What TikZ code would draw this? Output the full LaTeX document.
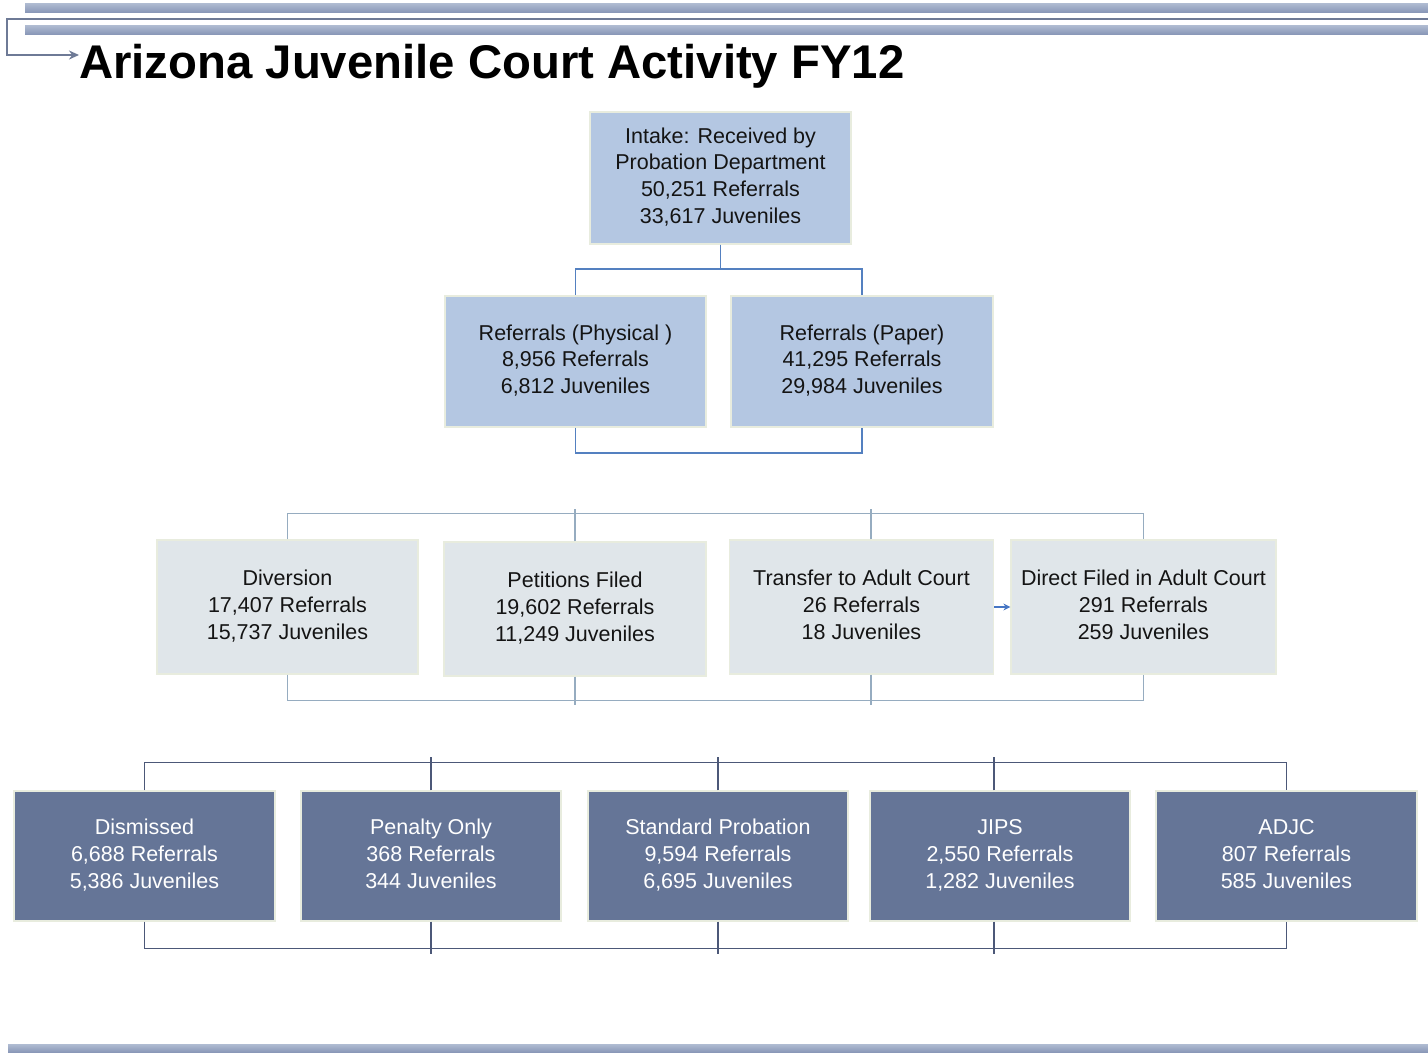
\documentclass[tikz,border=0pt]{standalone}
\usepackage{fontspec}
\setmainfont{Liberation Sans}
\usetikzlibrary{arrows.meta,calc}
\definecolor{fillA}{RGB}{180,199,226}
\definecolor{fillB}{RGB}{224,230,234}
\definecolor{fillC}{RGB}{101,117,151}
\definecolor{edgeBox}{RGB}{232,236,222}
\definecolor{lineA}{RGB}{84,128,192}
\definecolor{lineB}{RGB}{150,172,192}
\definecolor{lineC}{RGB}{76,88,120}
\definecolor{arrowBlue}{RGB}{70,118,196}
\definecolor{txt}{RGB}{20,20,20}
\definecolor{barTop}{RGB}{176,188,210}
\definecolor{barMid}{RGB}{214,222,235}
\definecolor{barBot}{RGB}{138,152,184}
\definecolor{hdrLine}{RGB}{110,122,150}
\begin{document}
\begin{tikzpicture}[x=1pt,y=-1pt,
  box/.style={rectangle, draw=edgeBox, line width=1.2pt, align=center, inner sep=0pt,
    font=\fontsize{21.5}{26.7}\selectfont, text=txt},
  boxA/.style={box, fill=fillA, minimum width=261pt, minimum height=131pt},
  boxB/.style={box, fill=fillB, minimum width=262pt, minimum height=134pt},
  boxC/.style={box, fill=fillC, minimum width=261pt, minimum height=130pt, text=white},
  conA/.style={draw=lineA, line width=1.8pt},
  conB/.style={draw=lineB, line width=1.3pt},
  conC/.style={draw=lineC, line width=1.5pt},
  bar/.style={top color=barTop, middle color=barMid, bottom color=barBot},
  hdr/.style={draw=hdrLine, line width=1.6pt}]
\useasboundingbox[fill=white] (0,0) rectangle (1428,1053);

% header decoration
\fill[bar] (25,3) rectangle (1428,12);
\fill[bar] (25,25) rectangle (1428,34);
\fill[bar] (8,1044) rectangle (1428,1052);
\node[anchor=base west, inner sep=0pt, font=\fontsize{47.3}{56}\selectfont\bfseries] (title) at (79,78) {Arizona Juvenile Court Activity FY12};
\draw[hdr, -{Stealth[length=10pt,width=9pt]}] (1428,19) -- (7,19) -- (7,55) -- (79,55);

% row 1-2
\node[boxA, minimum height=132pt] (intake) at (720.5,178) {\strut Intake: Received by\\Probation Department\\50,251 Referrals\\33,617 Juveniles\strut};
\node[boxA] (phys) at (575.5,361.5) {\strut Referrals (Physical )\\8,956 Referrals\\6,812 Juveniles\strut};
\node[boxA, minimum width=262pt] (paper) at (862,361.5) {\strut Referrals (Paper)\\41,295 Referrals\\29,984 Juveniles\strut};

\draw[conA] (intake.south) -- ++(0,24) -| (phys.north);
\draw[conA] (intake.south) -- ++(0,24) -| (paper.north);
\draw[conA] (phys.south) -- ++(0,25) -| (paper.south);

% row 3
\node[boxB, minimum width=261pt] (div) at (287.5,607) {\strut Diversion\\17,407 Referrals\\15,737 Juveniles\strut};
\node[boxB] (pet) at (575,609) {\strut Petitions Filed\\19,602 Referrals\\11,249 Juveniles\strut};
\node[boxB, minimum width=264pt] (trans) at (861.5,607) {\strut Transfer to Adult Court\\26 Referrals\\18 Juveniles\strut};
\node[boxB, minimum width=265pt] (direct) at (1143.5,607) {\strut Direct Filed in Adult Court\\291 Referrals\\259 Juveniles\strut};

\draw[conB] (div.north) -- ++(0,-26) -| (direct.north);
\draw[conB] (pet.north) -- ++(0,-32);
\draw[conB] ([xshift=9.5pt]trans.north) -- ++(0,-30);
\draw[conB] (div.south) -- ++(0,26) -| (direct.south);
\draw[conB] (pet.south) -- ++(0,28);
\draw[conB] ([xshift=9.5pt]trans.south) -- ++(0,30);
\draw[draw=arrowBlue, line width=1.5pt, -{Stealth[length=7pt,width=7pt]}] (trans.east) -- (direct.west);

% row 4
\node[boxC] (dis) at (144.5,856) {\strut Dismissed\\6,688 Referrals\\5,386 Juveniles\strut};
\node[boxC, minimum width=260pt] (pen) at (431,856) {\strut Penalty Only\\368 Referrals\\344 Juveniles\strut};
\node[boxC, minimum width=260pt] (std) at (718,856) {\strut Standard Probation\\9,594 Referrals\\6,695 Juveniles\strut};
\node[boxC, minimum width=260pt] (jips) at (1000,856) {\strut JIPS\\2,550 Referrals\\1,282 Juveniles\strut};
\node[boxC] (adjc) at (1286.5,856) {\strut ADJC\\807 Referrals\\585 Juveniles\strut};

\draw[conC] (dis.north) -- ++(0,-28) -| (adjc.north);
\draw[conC] (pen.north) -- ++(0,-33);
\draw[conC] (std.north) -- ++(0,-33);
\draw[conC] ([xshift=-6pt]jips.north) -- ++(0,-33);
\draw[conC] (dis.south) -- ++(0,27) -| (adjc.south);
\draw[conC] (pen.south) -- ++(0,32);
\draw[conC] (std.south) -- ++(0,32);
\draw[conC] ([xshift=-6pt]jips.south) -- ++(0,32);
\end{tikzpicture}
\end{document}
